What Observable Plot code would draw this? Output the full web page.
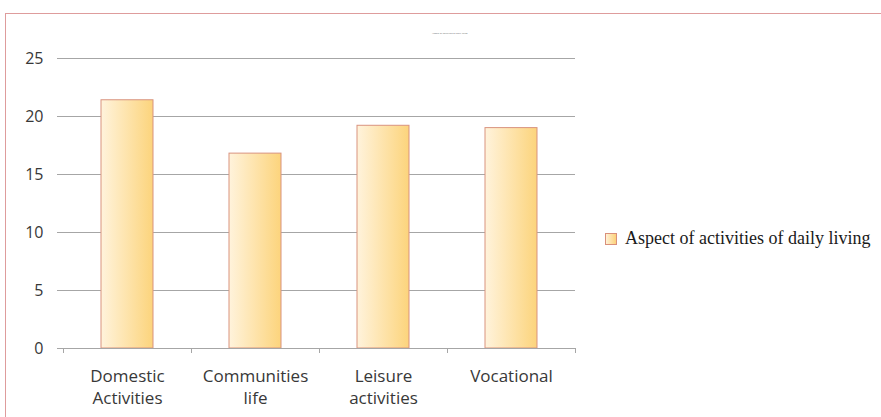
<!DOCTYPE html>
<html>
<head>
<meta charset="utf-8">
<script src="https://cdn.jsdelivr.net/npm/d3@7"></script>
<script src="https://cdn.jsdelivr.net/npm/@observablehq/plot@0.6"></script>
<style>
  html, body { margin: 0; padding: 0; background: #fff; }
  #wrap { position: relative; width: 881px; height: 417px; overflow: hidden; }
  #border { position: absolute; left: 5px; top: 13px; width: 900px; height: 420px; border: 1.5px solid #de9c9c; box-sizing: border-box; }
  #chart { position: absolute; left: 0; top: 0; }
  #legend { position: absolute; left: 605px; top: 228px; font-family: "Liberation Serif", "DejaVu Serif", serif; font-size: 18px; color: #1a1a1a; display: flex; align-items: center; white-space: nowrap; }
  #legend .sw { width: 10px; height: 10px; border: 1px solid #d9907a; background: linear-gradient(to right, #fff1d6, #fcd27a); margin-right: 8px; }
  #title { position: absolute; left: 432px; top: 31px; font-family: "Open Sans", sans-serif; font-size: 2.4px; color: #666; white-space: nowrap; }
</style>
</head>
<body>
<div id="wrap">
  <div id="border"></div>
  <div id="chart"></div>
  <div id="title"></div>
  <div id="legend"><div class="sw"></div><span id="legtext"></span></div>
</div>
<script>
const categories = ["Domestic\nActivities", "Communities\nlife", "Leisure\nactivities", "Vocational"];
const values = [21.4, 16.8, 19.2, 19.0];
const yTicks = [0, 5, 10, 15, 20, 25];
const seriesName = "Aspect of activities of daily living";

const data = categories.map((c, i) => ({category: c, value: values[i]}));
const lastCat = [categories[categories.length - 1]];

const plot = Plot.plot({
  width: 881,
  height: 417,
  marginLeft: 63,
  marginRight: 306,
  marginTop: 58,
  marginBottom: 69,
  style: {background: "transparent", overflow: "visible"},
  x: {domain: categories, paddingInner: 0.59, paddingOuter: 0.295, label: null},
  y: {domain: [0, 25], label: null},
  marks: [
    Plot.ruleY(yTicks.filter(d => d > 0), {stroke: "#a6a6a6", strokeWidth: 1, insetLeft: -6}),
    Plot.barY(data, {x: "category", y: "value", fill: "url(#barGrad)", stroke: "#d9937f", strokeWidth: 1}),
    Plot.ruleY([0], {stroke: "#a6a6a6", strokeWidth: 1, insetLeft: -6}),
    Plot.ruleX(categories, {x: d => d, y1: 0, y2: 0, dx: -64, stroke: "#a6a6a6", strokeWidth: 1, insetBottom: -5}),
    Plot.ruleX(lastCat, {x: d => d, y1: 0, y2: 0, dx: 64, stroke: "#a6a6a6", strokeWidth: 1, insetBottom: -5}),
    Plot.axisY({ticks: yTicks, tickSize: 0, tickPadding: 20, fontSize: 16, fill: "#383838", fontFamily: "Open Sans, sans-serif"}),
    Plot.axisX({tickSize: 0, tickPadding: 18, fontSize: 17, fill: "#383838", fontFamily: "Open Sans, sans-serif", lineHeight: 1.3})
  ]
});

const ns = "http://www.w3.org/2000/svg";
const defs = document.createElementNS(ns, "defs");
const grad = document.createElementNS(ns, "linearGradient");
grad.setAttribute("id", "barGrad");
grad.setAttribute("x1", "0"); grad.setAttribute("x2", "1");
grad.setAttribute("y1", "0"); grad.setAttribute("y2", "0");
[["0%", "#fff3dc"], ["100%", "#fcd47c"]].forEach(([o, c]) => {
  const s = document.createElementNS(ns, "stop");
  s.setAttribute("offset", o); s.setAttribute("stop-color", c);
  grad.appendChild(s);
});
defs.appendChild(grad);
plot.insertBefore(defs, plot.firstChild);

document.getElementById("chart").appendChild(plot);
document.getElementById("legtext").textContent = seriesName;
document.getElementById("title").textContent = seriesName;
</script>
</body>
</html>
